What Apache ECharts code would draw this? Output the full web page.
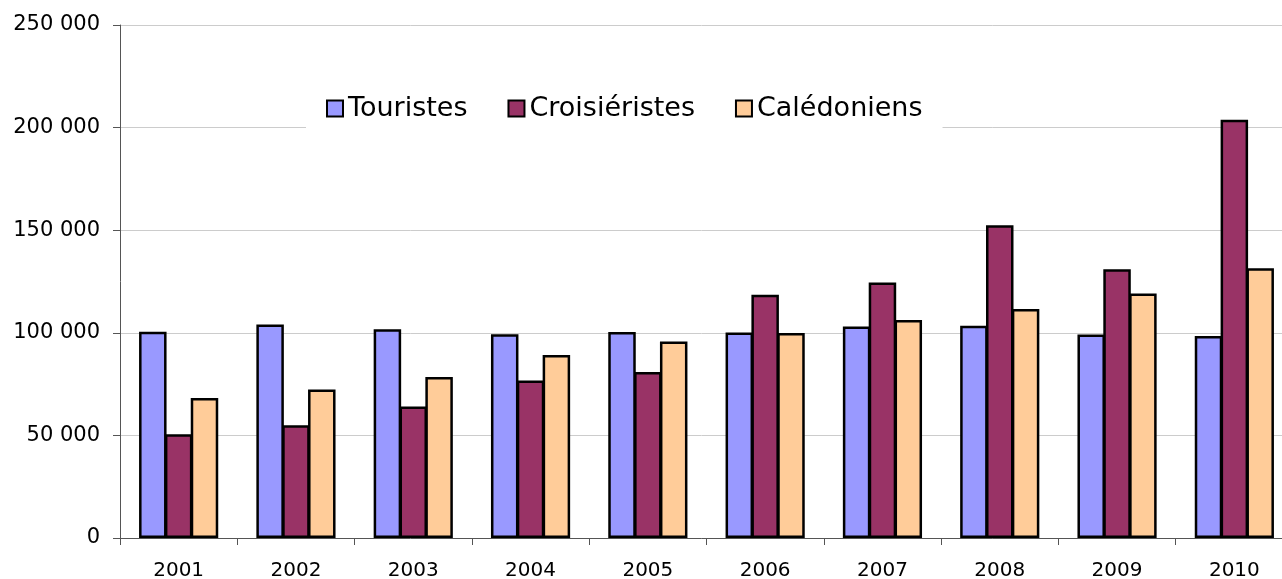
<!DOCTYPE html>
<html>
<head>
<meta charset="utf-8">
<script src="https://cdn.jsdelivr.net/npm/echarts@6/dist/echarts.min.js"></script>
<style>
  html, body { margin: 0; padding: 0; background: #fff; }
  #chart { width: 1282px; height: 579px; }
</style>
</head>
<body>
<div id="chart"></div>
<script>
// années
const years = ['2001', '2002', '2003', '2004', '2005', '2006', '2007', '2008', '2009', '2010'];
const seriesNames = ['Touristes', 'Croisiéristes', 'Calédoniens'];
const touristes = [100500, 104000, 101700, 99300, 100400, 100200, 103100, 103400, 99200, 98400];
const croisieristes = [50500, 54900, 64100, 76800, 80900, 118600, 124500, 152400, 131000, 203800];
const caledoniens = [68200, 72400, 78400, 89200, 95700, 99900, 106200, 111600, 119100, 131500];
const colors = ['#9999FF', '#993366', '#FFCC99'];

const font = 'DejaVu Sans, Verdana, sans-serif';

function fmt(v) {
   return String(v).replace(/\B(?=(\d{3})+(?!\d))/g, ' ');
}

const chart = echarts.init(document.getElementById('chart'));

const mkSeries = function(name, data, color) {
   return {
      type: 'bar',
      name: name,
      data: data,
      barGap: '-6%',
      barCategoryGap: '32.5%',
      itemStyle: {
         color: color,
         borderColor: '#000',
         borderWidth: 2.5,
      },
      emphasis: { disabled: true },
   };
};

const option = {
   animation: false,
   backgroundColor: '#fff',
   grid: {
      left: 120,
      top: 25,
      width: 1173,
      height: 513,
      outerBoundsMode: 'none',
   },
   legend: {
      data: seriesNames,
      left: 306,
      top: 81,
      padding: [14, 20],
      backgroundColor: '#fff',
      itemWidth: 16,
      itemHeight: 16,
      itemGap: 40,
      icon: 'rect',
      itemStyle: { borderColor: '#000', borderWidth: 2 },
      textStyle: { fontFamily: font, fontSize: 27, color: '#000' },
   },
   xAxis: {
      type: 'category',
      data: years,
      boundaryGap: true,
      axisLine: { lineStyle: { color: '#555', width: 1 } },
      axisTick: { show: true, length: 7, lineStyle: { color: '#555' } },
      axisLabel: { fontFamily: font, fontSize: 20, color: '#000', margin: 23 },
   },
   yAxis: {
      type: 'value',
      min: 0,
      max: 250000,
      interval: 50000,
      axisLine: { show: true, lineStyle: { color: '#555', width: 1 } },
      axisTick: { show: true, length: 7, lineStyle: { color: '#555' } },
      splitLine: { lineStyle: { color: '#ccc', width: 1 } },
      axisLabel: {
         fontFamily: font,
         fontSize: 21,
         color: '#000',
         margin: 20,
         formatter: fmt,
      },
   },
   series: [
      mkSeries(seriesNames[0], touristes, colors[0]),
      mkSeries(seriesNames[1], croisieristes, colors[1]),
      mkSeries(seriesNames[2], caledoniens, colors[2]),
   ],
};

chart.setOption(option);
</script>
</body>
</html>
